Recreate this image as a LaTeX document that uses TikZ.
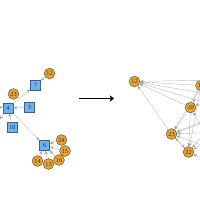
\documentclass[tikz,border=0pt]{standalone}
\usepackage{fontspec}
\setmainfont{Liberation Serif}
\usetikzlibrary{arrows.meta, positioning}
\definecolor{orangefill}{HTML}{E8A234}
\definecolor{orangeedge}{HTML}{5C4A2A}
\definecolor{bluefill}{HTML}{6DB3EC}
\definecolor{blueedge}{HTML}{3E5F86}
\definecolor{bluetext}{HTML}{1C2C6C}
\definecolor{edgegray}{HTML}{BDBDBD}
\definecolor{tipgray}{HTML}{A4A4A4}
\begin{document}
\begin{tikzpicture}[x=0.05cm,y=-0.05cm]

\tikzstyle{sq}=[rectangle,draw=blueedge,fill=bluefill,line width=0.6pt,minimum size=0.52cm,inner sep=0pt,text=bluetext,font=\small]
\tikzstyle{ci}=[circle,draw=orangeedge,fill=orangefill,line width=0.6pt,minimum size=0.54cm,inner sep=0pt,text=black!80,font=\small]
\tikzstyle{line}=[draw=edgegray, line width=0.6pt, -{Stealth[length=5pt,width=4.5pt,color=tipgray]}]

\useasboundingbox (0,0) rectangle (200,200);
\clip (0,0) rectangle (200,200);

% left graph
\coordinate (l1) at (-15,106);
\coordinate (l2) at (0,119);

\node (a4) [sq] at (8,108) {4};
\node (a3) [sq] at (29.5,107) {3};
\node (a7) [sq] at (35.5,85) {7};
\node (a10) [sq] at (12.5,127) {10};
\node (a6) [sq] at (44.5,145.5) {6};
\node (a23) [ci] at (13.5,94) {23};
\node (a12) [ci] at (49.5,73.5) {12};
\node (a24) [ci] at (61.5,140) {24};
\node (a15) [ci] at (65,151) {15};
\node (a16) [ci] at (59,160) {16};
\node (a13) [ci] at (48.5,164) {13};
\node (a14) [ci] at (37.5,161) {14};

\draw[line] (l1) -- (a4);
\draw[line] (a4) -- (l2);
\draw[line] (a3) -- (a4);
\draw[line] (a10) -- (a4);
\draw[line] (a4) -- (a7);
\draw[line] (a12) -- (a7);
\draw[line] (a4) -- (a6);
\draw[line] (a24) -- (a6);
\draw[line] (a15) -- (a6);
\draw[line] (a16) -- (a6);
\draw[line] (a13) -- (a6);
\draw[line] (a14) -- (a6);

% arrow between the two graphs
\coordinate (from) at (79,98.5);
\coordinate (to) at (114,98.5);
\draw[line width=2.3pt, -{Stealth[length=6pt,width=9pt,inset=1.5pt]}] (from) -- (to);

% right graph
\coordinate (r1) at (215,80);
\coordinate (r2) at (220,96);
\coordinate (r3) at (218,118);
\coordinate (r4) at (225,132);
\coordinate (r5) at (215,150);
\coordinate (r6) at (222,168);
\coordinate (r7) at (230,110);

\node (b12) [ci] at (134.5,81.5) {12};
\node (b18) [ci] at (201,85.5) {18};
\node (b20) [ci] at (190.5,107.5) {20};
\node (b23) [ci] at (171.5,134) {23};
\node (b22) [ci] at (188.5,152) {22};

\draw[line] (b18) -- (b12);
\draw[line] (r1) -- (b12);
\draw[line] (r2) -- (b12);
\draw[line] (r7) -- (b12);
\draw[line] (b20) -- (b12);
\draw[line] (b23) -- (b12);
\draw[line] (b18) -- (b20);
\draw[line] (b20) -- (b23);
\draw[line] (b18) -- (b23);
\draw[line] (r3) -- (b23);
\draw[line] (r4) -- (b23);
\draw[line] (r5) -- (b23);
\draw[line] (r7) -- (b23);
\draw[line] (b23) -- (b22);
\draw[line] (b22) -- (b23);
\draw[line] (b20) -- (b22);
\draw[line] (r3) -- (b22);
\draw[line] (r4) -- (b22);
\draw[line] (r6) -- (b22);
\draw[line] (b18) -- (b22);
\draw[line] (r2) -- (b20);
\draw[line] (r5) -- (b20);

\end{tikzpicture}
\end{document}
